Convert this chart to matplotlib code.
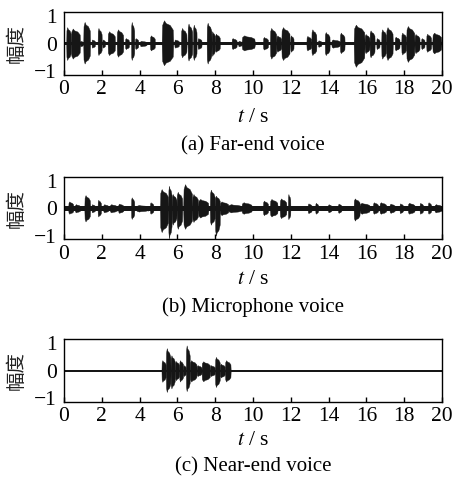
import matplotlib.pyplot as plt
import numpy as np

plt.rcParams['font.family'] = ['Liberation Serif', 'DejaVu Serif']
plt.rcParams['mathtext.fontset'] = 'stix'

# bursts: start time, end time, upper peak, lower peak
far_on = [0.12, 0.37, 0.85, 1.02, 1.46, 1.78, 2.03, 2.31, 2.79, 3.23, 3.55, 3.76, 4.02, 4.55,
          5.17, 5.84, 6.19, 6.54, 6.83, 7.07, 7.55, 7.81, 7.99, 8.87, 9.22, 9.4,
          10.53, 10.9, 11.24, 11.5, 11.98, 12.83, 13.09, 13.44, 13.8, 14.15, 14.6,
          15.33, 15.91, 16.17, 16.53, 16.79, 17.05, 17.5, 17.85, 18.11, 18.55, 18.9,
          19.17, 19.49]
far_off = [0.37, 0.85, 1.0, 1.38, 1.64, 2.0, 2.17, 2.7, 3.14, 3.44, 3.72, 3.93, 4.37, 4.81,
           5.78, 6.08, 6.49, 6.79, 7.02, 7.28, 7.81, 7.99, 8.25, 9.14, 9.4, 10.1,
           10.8, 11.24, 11.5, 11.95, 12.15, 13.09, 13.36, 13.62, 14.06, 14.6, 14.85,
           15.91, 16.17, 16.44, 16.7, 17.05, 17.4, 17.76, 18.11, 18.55, 18.82, 19.08,
           19.43, 19.97]
far_top = [0.6, 0.55, 0.1, 0.79, 0.15, 0.57, 0.15, 0.45, 0.52, 0.2, 0.79, 0.2, 0.1, 0.3,
           0.85, 0.15, 0.57, 0.73, 0.69, 0.2, 0.76, 0.45, 0.36, 0.2, 0.1, 0.3,
           0.24, 0.57, 0.3, 0.6, 0.3, 0.28, 0.52, 0.12, 0.42, 0.15, 0.4,
           0.69, 0.35, 0.48, 0.2, 0.52, 0.6, 0.25, 0.4, 0.64, 0.35, 0.2,
           0.36, 0.4]
far_bot = [-0.6, -0.55, -0.1, -0.73, -0.15, -0.42, -0.15, -0.42, -0.48, -0.2, -0.6, -0.2, -0.1, -0.25,
           -0.79, -0.15, -0.5, -0.62, -0.6, -0.2, -0.73, -0.45, -0.3, -0.2, -0.1, -0.25,
           -0.22, -0.55, -0.3, -0.6, -0.3, -0.25, -0.42, -0.12, -0.42, -0.15, -0.35,
           -0.85, -0.35, -0.5, -0.2, -0.55, -0.6, -0.25, -0.4, -0.67, -0.35, -0.2,
           -0.3, -0.36]

mic_on = [0.23, 0.58, 1.08, 1.46, 1.78, 2.08, 2.43, 2.87, 3.55, 3.84, 4.55,
          5.08, 5.52, 5.7, 5.96, 6.31, 6.79, 7.1, 7.72, 7.99, 8.25, 8.7, 9.4,
          10.53, 10.9, 11.42, 11.85, 12.9, 13.3, 13.97, 14.5, 15.33, 15.65,
          16.35, 16.7, 17.23, 17.76, 18.2, 18.82, 19.26, 19.61]
mic_off = [0.49, 0.85, 1.38, 1.64, 1.96, 2.35, 2.79, 3.14, 3.72, 4.46, 4.73,
           5.52, 5.7, 5.96, 6.26, 6.79, 7.1, 7.64, 7.99, 8.25, 8.7, 9.4, 9.93,
           10.8, 11.3, 11.77, 11.98, 13.1, 13.45, 14.15, 14.68, 15.65, 16.17,
           16.62, 17.05, 17.5, 17.94, 18.55, 19.0, 19.43, 19.97]
mic_top = [0.25, 0.15, 0.48, 0.15, 0.31, 0.15, 0.15, 0.17, 0.4, 0.12, 0.22,
           0.7, 0.82, 0.52, 0.6, 0.88, 0.52, 0.34, 0.68, 0.46, 0.25, 0.15, 0.22,
           0.28, 0.34, 0.36, 0.52, 0.18, 0.2, 0.15, 0.17, 0.36, 0.2,
           0.22, 0.22, 0.17, 0.18, 0.2, 0.2, 0.22, 0.15]
mic_bot = [-0.2, -0.15, -0.48, -0.15, -0.3, -0.15, -0.15, -0.17, -0.39, -0.12, -0.2,
           -0.87, -1.1, -0.6, -0.75, -0.75, -0.5, -0.34, -0.6, -1.0, -0.25, -0.15, -0.2,
           -0.25, -0.3, -0.36, -0.4, -0.18, -0.2, -0.15, -0.17, -0.45, -0.2,
           -0.2, -0.2, -0.17, -0.18, -0.2, -0.2, -0.2, -0.15]

near_on = [5.16, 5.39, 5.64, 5.87, 6.1, 6.31, 6.45, 6.66, 7.02, 7.28, 7.73, 7.99, 8.25, 8.52]
near_off = [5.39, 5.64, 5.87, 6.1, 6.31, 6.45, 6.66, 7.02, 7.28, 7.73, 7.99, 8.25, 8.52, 8.82]
near_top = [0.38, 0.82, 0.56, 0.35, 0.38, 0.2, 0.92, 0.38, 0.2, 0.34, 0.2, 0.5, 0.25, 0.38]
near_bot = [-0.41, -0.78, -0.65, -0.35, -0.4, -0.2, -0.75, -0.4, -0.2, -0.39, -0.2, -0.6, -0.25, -0.4]

noise_floor = [0.04, 0.09, 0.04]
captions = ['(a) Far-end voice', '(b) Microphone voice', '(c) Near-end voice']
x_ticks = list(range(0, 21, 2))
y_ticks = [-1, 0, 1]

panels = [(far_on, far_off, far_top, far_bot),
          (mic_on, mic_off, mic_top, mic_bot),
          (near_on, near_off, near_top, near_bot)]

bottoms = [0.8455, 0.5052, 0.1698]
label_off = [31, 29, 27.5]
cap_off = [51.5, 48.5, 46.5]
ink = '#161616'

fig = plt.figure(figsize=(4.57, 4.84), dpi=100)

for k, (on, off, top, bot) in enumerate(panels):
    ax = fig.add_axes([0.140, bottoms[k], 0.827, 0.129])
    fl = noise_floor[k]
    ax.fill_between([0, 20], -fl, fl, color=ink, lw=0)
    for s, e, hi, lo in zip(on, off, top, bot):
        w = e - s
        # envelope shape of one burst: quick attack, flat body, short decay
        xs = [s, s + 0.04 * w, s + 0.2 * w, s + 0.35 * w, s + 0.7 * w, e - 0.04 * w, e]
        up = [fl, 0.8 * hi, hi, 0.88 * hi, 0.8 * hi, 0.6 * hi, fl]
        dn = [-fl, 0.8 * lo, lo, 0.88 * lo, 0.8 * lo, 0.6 * lo, -fl]
        ax.fill_between(xs, dn, up, color=ink, lw=0.3, edgecolor=ink)

    ax.set_xlim(0, 20)
    ax.set_ylim(-1.14, 1.14)
    ax.set_xticks(x_ticks)
    ax.set_yticks(y_ticks)
    ax.set_yticklabels(['\u22121', '0', '1'])
    ax.tick_params(axis='x', direction='in', length=3.3, width=1.0, pad=4, labelsize=15.5)
    ax.tick_params(axis='y', length=0, pad=5, labelsize=15.5)
    for sp in ax.spines.values():
        sp.set_linewidth(1.0)

    ax.text(-0.127, 0.5, '幅度', transform=ax.transAxes, rotation=90,
            ha='center', va='center', fontsize=14,
            family=['Noto Sans CJK SC', 'DejaVu Sans'], color='#222222')
    ax.annotate(r'$t$ / s', xy=(0.5, 0), xycoords='axes fraction',
                xytext=(0, -label_off[k]), textcoords='offset points',
                ha='center', va='center', fontsize=15.5)
    ax.annotate(captions[k], xy=(0.5, 0), xycoords='axes fraction',
                xytext=(0, -cap_off[k]), textcoords='offset points',
                ha='center', va='center', fontsize=15)

fig.savefig('out.png', dpi=100)
